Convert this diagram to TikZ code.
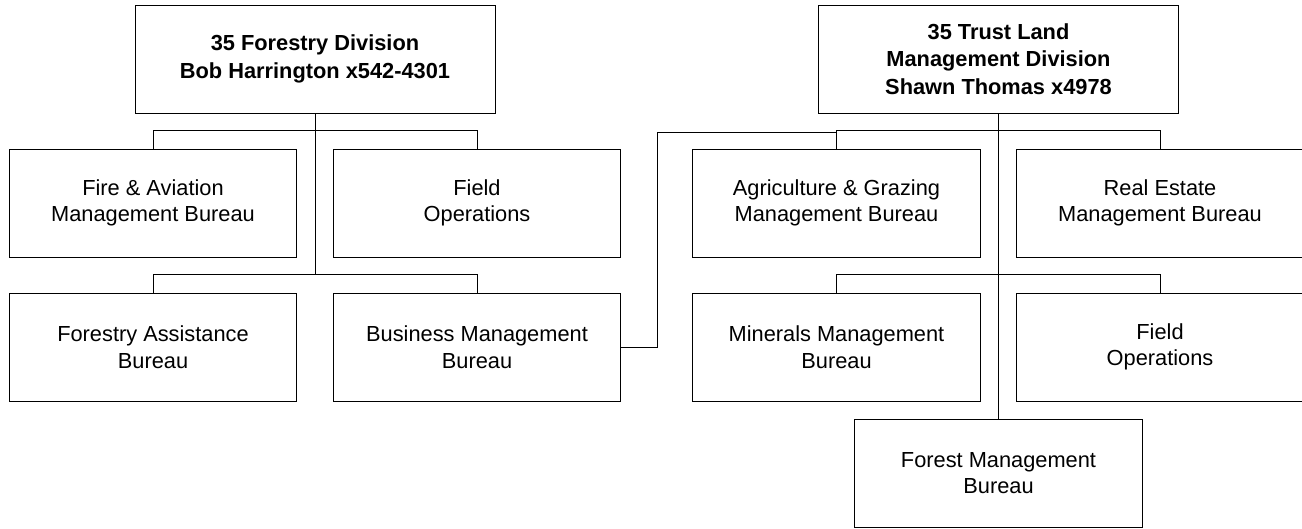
\documentclass[tikz,border=0pt]{standalone}
\usepackage{fontspec}
\setmainfont{Liberation Sans}
\usepackage{tikz}
\usetikzlibrary{shapes,arrows,positioning}

\begin{document}
\begin{tikzpicture}[x=1pt, y=1pt, node distance=144pt, line width=0.9pt,
    unit/.style={rectangle,draw,minimum width=287.5pt,minimum height=108pt,inner sep=0pt,align=center,font=\fontsize{21.8}{26.5}\selectfont},
    head/.style={unit,minimum width=360pt,font=\fontsize{21.8}{27.5}\selectfont\bfseries}]
    \useasboundingbox (0,0) rectangle (1302,-529);

    \node[head] (forestry) at (315,-59) {35 Forestry Division\\Bob Harrington x542-4301};
    \node[unit] (fire) at (153,-203) {Fire \& Aviation\\Management Bureau};
    \node[unit] (fieldops) [right of=fire, node distance=324pt] {Field\\Operations};
    \node[unit] (assist) [below of=fire] {Forestry Assistance\\Bureau};
    \node[unit] (business) [right of=assist, node distance=324pt] {Business Management\\Bureau};

    \node[head] (trust) at (998.5,-59) {35 Trust Land\\Management Division\\Shawn Thomas x4978};
    \node[unit] (agri) at (836.5,-203) {Agriculture \& Grazing\\Management Bureau};
    \node[unit] (realestate) [right of=agri, node distance=323.5pt] {Real Estate\\Management Bureau};
    \node[unit] (minerals) [below of=agri] {Minerals Management\\Bureau};
    \node[unit] (fieldops2) [right of=minerals, node distance=323.5pt] {Field\\Operations};
    \node[unit] (forest) at (998.5,-473) {Forest Management\\Bureau};
    \coordinate (link) at (657,-132);

    \draw[shorten >=18pt] (forestry.south) -- (forestry.south |- assist.north);
    \draw (fire.north) -- ++(0,18) -| (fieldops.north);
    \draw (assist.north) -- ++(0,18) -| (business.north);

    \draw (trust.south) -- (forest.north);
    \draw (agri.north) -- ++(0,18) -| (realestate.north);
    \draw (minerals.north) -- ++(0,18) -| (fieldops2.north);
    \draw (business.east) -| (link) -- (agri.north |- link);
\end{tikzpicture}
\end{document}
